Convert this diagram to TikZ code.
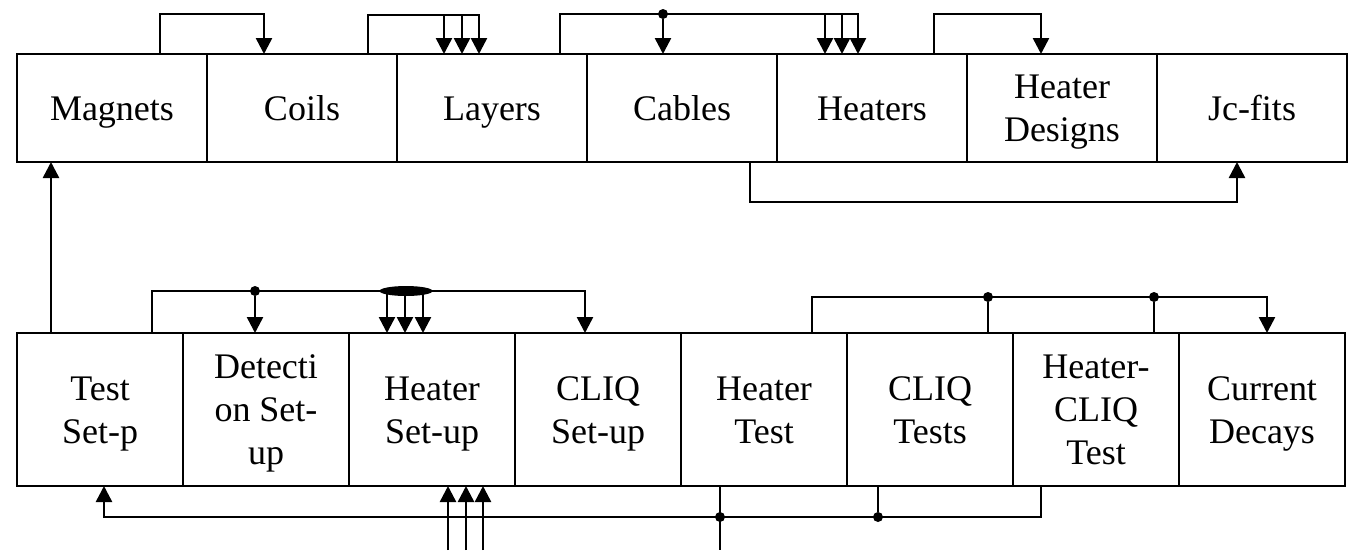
\documentclass[tikz,border=0pt]{standalone}
\usepackage{fontspec}
\setmainfont{Liberation Serif}
\usetikzlibrary{arrows.meta,shapes.geometric}
\newcommand\tlines[1]{\begin{tabular}{@{}c@{}}#1\end{tabular}}
\begin{document}
\begin{tikzpicture}[x=1pt,y=-1pt,
  box/.style={draw, line width=2.5pt, inner sep=0pt, outer sep=0pt},
  topbox/.style={box, minimum width=190pt, minimum height=108pt},
  botbox/.style={box, minimum width=166pt, minimum height=153pt},
  txt/.style={font=\fontsize{36}{43}\selectfont, inner sep=0pt, yshift=-3.5pt},
  conn/.style={line width=2.5pt},
  arr/.style={conn, -{Triangle[length=16pt,width=16pt]}},
  dot/.style={circle, fill, inner sep=0pt, minimum size=10pt},
  blob/.style={ellipse, fill, inner sep=0pt, minimum width=53pt, minimum height=10pt},
]
\path[use as bounding box, fill=white] (0,0) rectangle (1350,550);

% top row
\node[topbox] (magnets) at (112,108) {};
\node[topbox] (coils) at (302,108) {};
\node[topbox] (layers) at (492,108) {};
\node[topbox] (cables) at (682,108) {};
\node[topbox] (heaters) at (872,108) {};
\node[topbox] (hdesigns) at (1062,108) {};
\node[topbox] (jcfits) at (1252,108) {};
\node[txt] (magnets-t) at (magnets.center) {\tlines{Magnets}};
\node[txt] (coils-t) at (coils.center) {\tlines{Coils}};
\node[txt] (layers-t) at (layers.center) {\tlines{Layers}};
\node[txt] (cables-t) at (cables.center) {\tlines{Cables}};
\node[txt] (heaters-t) at (heaters.center) {\tlines{Heaters}};
\node[txt] (hdesigns-t) at (hdesigns.center) {\tlines{Heater\\Designs}};
\node[txt] (jcfits-t) at (jcfits.center) {\tlines{Jc-fits}};

% bottom row
\node[botbox] (test) at (100,409.5) {};
\node[botbox] (detection) at (266,409.5) {};
\node[botbox] (heatersetup) at (432,409.5) {};
\node[botbox] (cliqsetup) at (598,409.5) {};
\node[botbox] (heatertest) at (764,409.5) {};
\node[botbox] (cliqtests) at (930,409.5) {};
\node[botbox] (hcliq) at (1096,409.5) {};
\node[botbox] (decays) at (1262,409.5) {};
\node[txt] (test-t) at (test.center) {\tlines{Test\\Set-p}};
\node[txt] (detection-t) at (detection.center) {\tlines{Detecti\\on Set-\\up}};
\node[txt] (heatersetup-t) at (heatersetup.center) {\tlines{Heater\\Set-up}};
\node[txt] (cliqsetup-t) at (cliqsetup.center) {\tlines{CLIQ\\Set-up}};
\node[txt] (heatertest-t) at (heatertest.center) {\tlines{Heater\\Test}};
\node[txt] (cliqtests-t) at (cliqtests.center) {\tlines{CLIQ\\Tests}};
\node[txt] (hcliq-t) at (hcliq.center) {\tlines{Heater-\\CLIQ\\Test}};
\node[txt] (decays-t) at (decays.center) {\tlines{Current\\Decays}};

% top connectors
\draw[arr] (160,0 |- magnets.north) |- (264,14) -- (264,0 |- coils.north);
\draw[arr] (368,0 |- coils.north) |- (479,15) -- (479,0 |- layers.north);
\draw[arr] (444,15) -- (444,0 |- layers.north);
\draw[arr] (462,15) -- (462,0 |- layers.north);
\draw[arr] (560,0 |- layers.north) |- (858,14) -- (858,0 |- heaters.north);
\draw[arr] (825,14) -- (825,0 |- heaters.north);
\draw[arr] (842,14) -- (842,0 |- heaters.north);
\node[dot] (d1) at (663,14) {};
\draw[arr] (d1) -- (663,0 |- cables.north);
\draw[arr] (934,0 |- heaters.north) |- (1041,14) -- (1041,0 |- hdesigns.north);
\draw[arr] (750,0 |- cables.south) |- (1237,202) -- (1237,0 |- jcfits.south);
\draw[arr] (51,0 |- test.north) -- (51,0 |- magnets.south);

% bottom upper connectors
\draw[arr] (152,0 |- test.north) |- (585,291) -- (585,0 |- cliqsetup.north);
\node[dot] (d2) at (255,291) {};
\draw[arr] (d2) -- (255,0 |- detection.north);
\node[blob] (e1) at (406,291) {};
\draw[arr] (387,291) -- (387,0 |- heatersetup.north);
\draw[arr] (405,291) -- (405,0 |- heatersetup.north);
\draw[arr] (423,291) -- (423,0 |- heatersetup.north);

\draw[arr] (812,0 |- heatertest.north) |- (1267,297) -- (1267,0 |- decays.north);
\node[dot] (d3) at (988,297) {};
\draw[conn] (988,0 |- cliqtests.north) -- (d3);
\node[dot] (d4) at (1154,297) {};
\draw[conn] (1154,0 |- hcliq.north) -- (d4);

% bottom lower connectors
\draw[arr] (1041,0 |- hcliq.south) |- (104,517) -- (104,0 |- test.south);
\node[dot] (d5) at (878,517) {};
\draw[conn] (878,0 |- cliqtests.south) -- (d5);
\node[dot] (d6) at (720,517) {};
\coordinate (out) at (720,550);
\draw[conn] (720,0 |- heatertest.south) -- (out);
\coordinate (in1) at (448,550);
\coordinate (in2) at (466,550);
\coordinate (in3) at (483,550);
\draw[arr] (in1) -- (448,0 |- heatersetup.south);
\draw[arr] (in2) -- (466,0 |- heatersetup.south);
\draw[arr] (in3) -- (483,0 |- heatersetup.south);
\end{tikzpicture}
\end{document}
